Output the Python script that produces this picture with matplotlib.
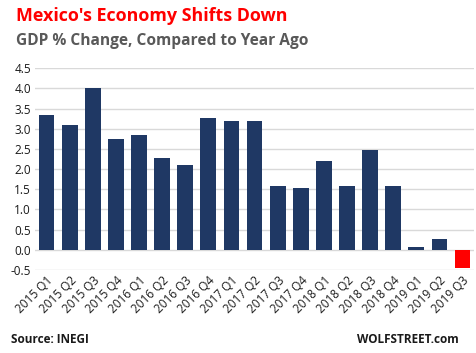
import matplotlib.pyplot as plt

quarters = ['2015 Q1', '2015 Q2', '2015 Q3', '2015 Q4',
            '2016 Q1', '2016 Q2', '2016 Q3', '2016 Q4',
            '2017 Q1', '2017 Q2', '2017 Q3', '2017 Q4',
            '2018 Q1', '2018 Q2', '2018 Q3', '2018 Q4',
            '2019 Q1', '2019 Q2', '2019 Q3']
gdp_change = [3.35, 3.10, 4.02, 2.75,
              2.85, 2.28, 2.09, 3.27,
              3.20, 3.20, 1.59, 1.52,
              2.19, 1.59, 2.48, 1.59,
              0.08, 0.28, -0.46]
y_ticks = [-0.5, 0.0, 0.5, 1.0, 1.5, 2.0, 2.5, 3.0, 3.5, 4.0, 4.5]

plt.rcParams['font.family'] = ['Open Sans', 'DejaVu Sans']

fig = plt.figure(figsize=(4.76, 3.53), dpi=100)
ax = fig.add_axes([0.0735, 0.235, 0.9225, 0.572])

# last bar in red
colors = ['#1f3864'] * (len(gdp_change) - 1) + ['#ff0000']
ax.bar(range(len(quarters)), gdp_change, width=0.68, color=colors, zorder=3)

ax.set_xlim(-0.5, len(quarters) - 0.5)
ax.set_ylim(-0.5, 4.5)
ax.set_yticks(y_ticks)
ax.set_yticklabels([f'{v:.1f}' for v in y_ticks], fontsize=8.5, color='#1a1a1a')
ax.set_xticks(range(len(quarters)))
ax.set_xticklabels(quarters, rotation=45, ha='right', rotation_mode='anchor',
                   fontsize=8.5, color='#1a1a1a')
ax.tick_params(length=0, pad=3)
ax.grid(axis='y', color='#d9d9d9', linewidth=1, zorder=0)
for s in ax.spines.values():
    s.set_visible(False)

fig.text(0.034, 0.955, "Mexico's Economy Shifts Down", color='#ff0000',
         fontsize=12.9, fontweight='bold', va='center', ha='left')
fig.text(0.034, 0.883, 'GDP % Change, Compared to Year Ago', color='#595959',
         fontsize=11.2, fontweight='bold', va='center', ha='left')
fig.text(0.023, 0.038, 'Source: INEGI', color='#1a1a1a',
         fontsize=8.5, fontweight='bold', va='center', ha='left')
fig.text(0.963, 0.038, 'WOLFSTREET.com', color='#1a1a1a',
         fontsize=8.5, fontweight='bold', va='center', ha='right')

fig.savefig('out.png', dpi=100)
